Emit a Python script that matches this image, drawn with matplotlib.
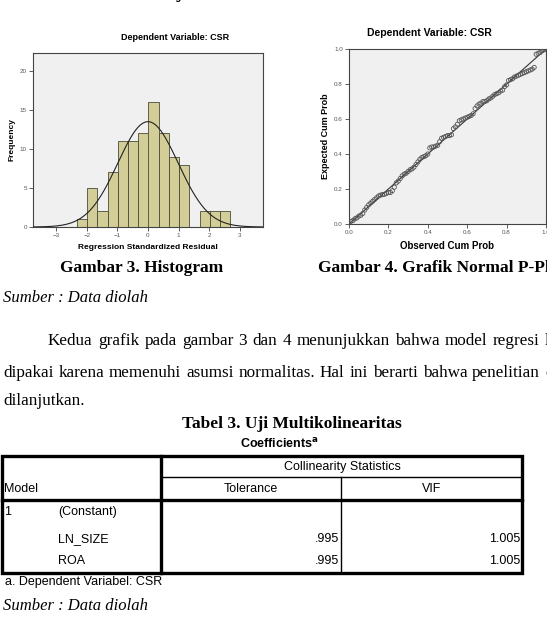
import numpy as np
import matplotlib
matplotlib.use('Agg')
import matplotlib.pyplot as plt

# =============================================================================
# DATA
# =============================================================================

# histogram of regression standardized residuals
bin_centers = [-2.16, -1.83, -1.49, -1.16, -0.82, -0.49, -0.15, 0.18,
               0.52, 0.85, 1.19, 1.52, 1.86, 2.19, 2.53]
bin_counts = [1, 5, 2, 7, 11, 11, 12, 16, 12, 9, 8, 0, 2, 2, 2]
bin_width = 0.335
resid_mean = 0.0
resid_std = 0.99
n_obs = 100

# normal P-P plot (observed vs expected cumulative probability)
obs_cum = [0.01, 0.02, 0.03, 0.04, 0.05, 0.06, 0.07, 0.08, 0.09, 0.10,
           0.11, 0.12, 0.13, 0.14, 0.15, 0.16, 0.17, 0.18, 0.19, 0.20,
           0.21, 0.22, 0.23, 0.24, 0.25, 0.26, 0.27, 0.28, 0.29, 0.30,
           0.31, 0.32, 0.33, 0.34, 0.35, 0.36, 0.37, 0.38, 0.39, 0.40,
           0.41, 0.42, 0.43, 0.44, 0.45, 0.46, 0.47, 0.48, 0.49, 0.50,
           0.51, 0.52, 0.53, 0.54, 0.55, 0.56, 0.57, 0.58, 0.59, 0.60,
           0.61, 0.62, 0.63, 0.64, 0.65, 0.66, 0.67, 0.68, 0.69, 0.70,
           0.71, 0.72, 0.73, 0.74, 0.75, 0.76, 0.77, 0.78, 0.79, 0.80,
           0.81, 0.82, 0.83, 0.84, 0.85, 0.86, 0.87, 0.88, 0.89, 0.90,
           0.91, 0.92, 0.93, 0.94, 0.95, 0.96, 0.97, 0.98, 0.99, 1.00]
exp_cum = [0.015, 0.02, 0.03, 0.035, 0.045, 0.05, 0.06, 0.08, 0.095, 0.11,
           0.12, 0.13, 0.14, 0.15, 0.16, 0.165, 0.168, 0.17, 0.175, 0.18,
           0.18, 0.19, 0.21, 0.235, 0.245, 0.26, 0.275, 0.285, 0.29, 0.30,
           0.31, 0.315, 0.325, 0.34, 0.355, 0.37, 0.38, 0.385, 0.39, 0.40,
           0.435, 0.44, 0.44, 0.445, 0.45, 0.47, 0.49, 0.495, 0.50, 0.505,
           0.505, 0.51, 0.545, 0.555, 0.57, 0.59, 0.595, 0.60, 0.605, 0.61,
           0.615, 0.62, 0.63, 0.66, 0.675, 0.685, 0.69, 0.70, 0.70, 0.705,
           0.715, 0.72, 0.73, 0.74, 0.745, 0.75, 0.76, 0.765, 0.785, 0.795,
           0.82, 0.825, 0.83, 0.84, 0.845, 0.85, 0.855, 0.86, 0.865, 0.87,
           0.875, 0.88, 0.885, 0.895, 0.97, 0.975, 0.98, 0.99, 0.995, 1.0]

# table
table_rows = ['(Constant)', 'LN_SIZE', 'ROA']
tolerance = ['', '.995', '.995']
vif = ['', '1.005', '1.005']

paragraph = [
    'Kedua grafik pada gambar 3 dan 4 menunjukkan bahwa model regresi layak',
    'dipakai karena memenuhi asumsi normalitas. Hal ini berarti bahwa penelitian dapat',
]

# =============================================================================
# PLOT
# =============================================================================

W, H = 547, 632
serif = 'Liberation Serif'
sans = 'Liberation Sans'
bar_color = '#d3ce97'
panel_bg = '#f0f0f0'
tick_grey = '#555555'
tfs = 9  # table font size
pfs = 12.3  # paragraph font size

fig = plt.figure(figsize=(W / 100, H / 100), dpi=100)
fig.patch.set_facecolor('white')


def ax_rect(left, top, right, bottom):
    return [left / W, 1 - bottom / H, (right - left) / W, (bottom - top) / H]


def put(x, y, s, **kw):
    kw.setdefault('va', 'center')
    return fig.text(x / W, 1 - y / H, s, **kw)


def style_spss(ax):
    ax.set_facecolor(panel_bg)
    for sp in ax.spines.values():
        sp.set_color('#444444')
        sp.set_linewidth(0.8)
    ax.tick_params(axis='both', direction='out', length=3, width=0.6,
                   color='#444444', labelsize=4.5, labelcolor=tick_grey, pad=1.5)
    for lab in ax.get_xticklabels() + ax.get_yticklabels():
        lab.set_family(sans)


def justify(line, x0, x1, y, **kw):
    # place words one by one so the line fills x0..x1 (justified text)
    renderer = fig.canvas.get_renderer()
    words = line.split()
    widths = []
    for w in words:
        t = put(0, y, w, **kw)
        widths.append(t.get_window_extent(renderer).width)
        t.remove()
    gap = (x1 - x0 - sum(widths)) / (len(words) - 1)
    x = x0
    for w, wd in zip(words, widths):
        put(x, y, w, **kw)
        x += wd + gap


# Histogram
ax1 = fig.add_axes(ax_rect(33, 53, 263, 227))
ax1.bar(bin_centers, bin_counts, width=bin_width, color=bar_color,
        edgecolor='#4a4a3a', linewidth=0.6, zorder=2)
xs = np.linspace(-3.77, 3.77, 300)
pdf = n_obs * bin_width / (resid_std * np.sqrt(2 * np.pi)) * \
    np.exp(-0.5 * ((xs - resid_mean) / resid_std) ** 2)
ax1.plot(xs, pdf, color='#222222', linewidth=0.8, zorder=3)
ax1.set_xlim(-3.77, 3.77)
ax1.set_ylim(0, 22.3)
ax1.set_xticks([-3, -2, -1, 0, 1, 2, 3])
ax1.set_yticks([0, 5, 10, 15, 20])
style_spss(ax1)
ax1.set_ylabel('Frequency', fontsize=6, fontweight='bold', family=sans, labelpad=3)
ax1.set_xlabel('Regression Standardized Residual', fontsize=6, fontweight='bold',
               family=sans, labelpad=4)
put(175, 38, 'Dependent Variable: CSR', fontsize=6.5, fontweight='bold',
    family=sans, ha='center')
put(175, -3, 'Histogram', fontsize=7, fontweight='bold', family=sans, ha='center')

# Normal P-P plot
ax2 = fig.add_axes(ax_rect(349, 49, 546, 224))
ax2.plot([0, 1], [0, 1], color='#333333', linewidth=0.8, zorder=2)
ax2.scatter(obs_cum, exp_cum, s=9, facecolors='none', edgecolors='#555555',
            linewidths=0.6, zorder=3)
ax2.set_xlim(0, 1)
ax2.set_ylim(0, 1)
ax2.set_xticks([0, 0.2, 0.4, 0.6, 0.8, 1.0])
ax2.set_yticks([0, 0.2, 0.4, 0.6, 0.8, 1.0])
ax2.set_xticklabels(['0.0', '0.2', '0.4', '0.6', '0.8', '1.0'])
ax2.set_yticklabels(['0.0', '0.2', '0.4', '0.6', '0.8', '1.0'])
style_spss(ax2)
ax2.set_ylabel('Expected Cum Prob', fontsize=6.5, fontweight='bold', family=sans,
               labelpad=3)
ax2.set_xlabel('Observed Cum Prob', fontsize=7, fontweight='bold', family=sans,
               labelpad=4)
put(429, 33, 'Dependent Variable: CSR', fontsize=7.5, fontweight='bold',
    family=sans, ha='center')

# captions and paragraph
put(142, 268, 'Gambar 3. Histogram', fontsize=12.5, fontweight='bold',
    family=serif, ha='center')
put(318, 268, 'Gambar 4. Grafik Normal P-Plot', fontsize=12.5, fontweight='bold',
    family=serif, ha='left')
put(3, 298, 'Sumber : Data diolah', fontsize=12, style='italic', family=serif)
justify(paragraph[0], 48, 582, 341, fontsize=pfs, family=serif)
justify(paragraph[1], 3, 582, 373, fontsize=pfs, family=serif)
put(3, 401, 'dilanjutkan.', fontsize=pfs, family=serif)

# table
put(292, 424, 'Tabel 3. Uji Multikolinearitas', fontsize=12.5, fontweight='bold',
    family=serif, ha='center')
put(279, 444, r'Coefficients$^{\mathbf{a}}$', fontsize=9, fontweight='bold',
    family=sans, ha='center')

tab = fig.add_axes([0, 0, 1, 1])
tab.set_xlim(0, W)
tab.set_ylim(H, 0)
tab.axis('off')
tab.patch.set_alpha(0)
tab.add_patch(plt.Rectangle((2, 456), 520, 117, fill=False, edgecolor='black',
                            linewidth=2.4))
tab.plot([161, 161], [456, 573], color='black', linewidth=2.4)
tab.plot([2, 522], [500, 500], color='black', linewidth=2.4)
tab.plot([161, 522], [477, 477], color='black', linewidth=1.0)
tab.plot([341, 341], [477, 573], color='black', linewidth=1.0)

put(342, 467, 'Collinearity Statistics', fontsize=tfs, family=sans, ha='center')
put(4, 489, 'Model', fontsize=tfs, family=sans)
put(251, 489, 'Tolerance', fontsize=tfs, family=sans, ha='center')
put(432, 489, 'VIF', fontsize=tfs, family=sans, ha='center')
put(4, 512, '1', fontsize=tfs, family=sans)
row_y = [512, 539, 561]
for i, name in enumerate(table_rows):
    put(58, row_y[i], name, fontsize=tfs, family=sans)
    put(339, row_y[i], tolerance[i], fontsize=tfs, family=sans, ha='right')
    put(520, row_y[i], vif[i], fontsize=tfs, family=sans, ha='right')
put(5, 582, 'a. Dependent Variabel: CSR', fontsize=tfs, family=sans)
put(3, 606, 'Sumber : Data diolah', fontsize=12, style='italic', family=serif)

plt.savefig('out.png', dpi=100)
